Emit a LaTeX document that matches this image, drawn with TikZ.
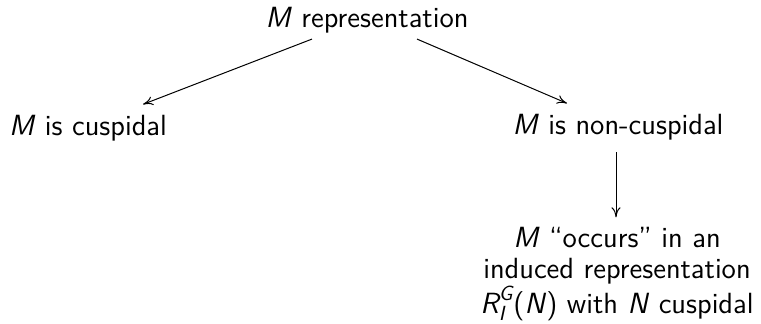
\documentclass[tikz,border=0pt]{standalone}
\usepackage{amsmath}
\usetikzlibrary{arrows.meta}
\begin{document}
\begin{tikzpicture}[x=0.5pt,y=-0.5pt,
  lbl/.style={font=\sffamily\fontsize{14.6}{15.2}\selectfont, align=center, inner sep=0pt, anchor=base},
  arr/.style={-{To[length=5pt,width=4.5pt]}, line width=0.5pt}]
\newcommand{\vi}[1]{\textit{#1}}
\useasboundingbox (0,0) rectangle (761,323);
\node[lbl] (top) at (367,27) {\vi{M} representation};
\node[lbl] (cusp) at (88,135) {\vi{M} is cuspidal};
\node[lbl] (nonc) at (618,134) {\vi{M} is non-cuspidal};
\node[lbl] (occ) at (617,313) {\vi{M} ``occurs'' in an\\induced representation\\$\text{\itshape R}_{\text{\itshape I}}^{\text{\itshape G}}$(\vi{N}) with \vi{N} cuspidal};
\coordinate (vt) at ([xshift=-2*0.5pt,yshift=-12*0.5pt]nonc.south);
\draw[arr] ([xshift=-55*0.5pt,yshift=-6*0.5pt]top.south) -- ([xshift=55*0.5pt,yshift=10*0.5pt]cusp.north);
\draw[arr] ([xshift=50*0.5pt,yshift=-6*0.5pt]top.south) -- ([xshift=-51*0.5pt,yshift=10*0.5pt]nonc.north);
\draw[arr] (vt) -- ([yshift=10*0.5pt]vt |- occ.north);
\end{tikzpicture}
\end{document}
